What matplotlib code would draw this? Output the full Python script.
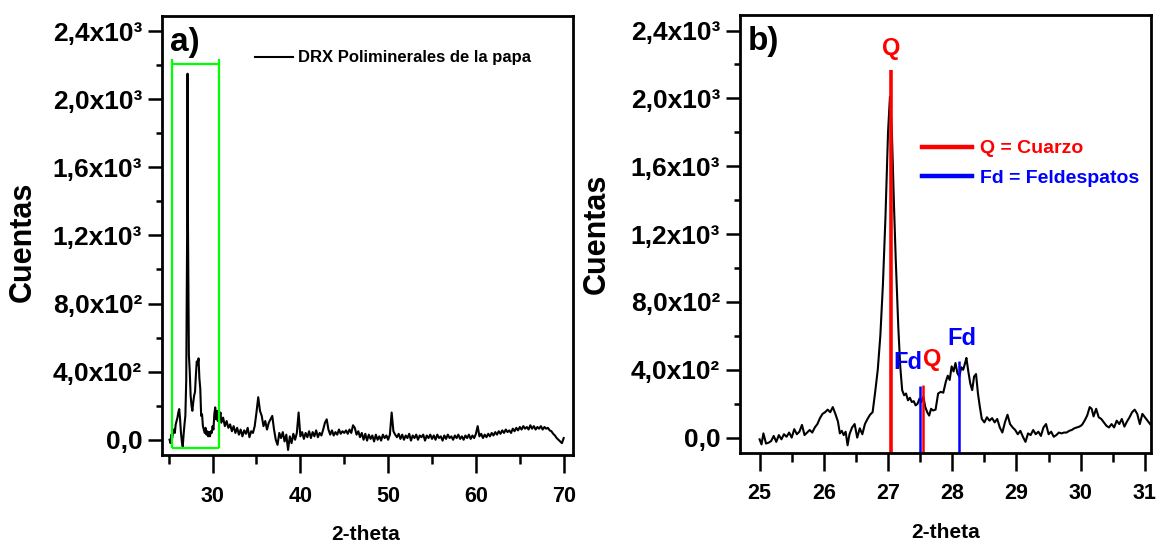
import numpy as np
import matplotlib.pyplot as plt
from matplotlib.ticker import MultipleLocator
from matplotlib.lines import Line2D

plt.rcParams['font.family'] = ['Liberation Sans', 'DejaVu Sans']
plt.rcParams['font.weight'] = 'bold'

# ---- panel a: full pattern ----
tt_a_low = [25.1, 25.2, 25.3, 25.4, 25.5, 25.6, 25.7, 25.8, 25.9, 26.0,
            26.1, 26.2, 26.3, 26.4, 26.5, 26.6, 26.7, 26.8, 26.9, 27.0,
            27.1, 27.15, 27.2, 27.3, 27.4, 27.5, 27.6, 27.7, 27.8, 27.9,
            28.0, 28.1, 28.2, 28.3, 28.4, 28.5, 28.6, 28.7, 28.8, 28.9,
            29.0, 29.1, 29.2, 29.3, 29.4, 29.5, 29.6, 29.7, 29.8, 29.9,
            30.0, 30.1, 30.2, 30.3, 30.4, 30.5, 30.6, 30.7, 30.8, 30.9, 31.0]
cts_a_low = [0, -20, 30, 10, 50, 60, 40, 90, 110, 130,
             160, 180, 120, 40, -10, -40, 30, 90, 140, 350,
             1200, 2150, 1250, 500, 400, 260, 200, 170, 220, 260,
             280, 380, 460, 440, 478, 360, 300, 140, 150, 80,
             60, 40, 70, 30, 50, 20, 45, 20, 50, 40,
             80, 60, 150, 190, 120, 170, 110, 150, 130, 160, 100]

tt_a_high = np.round(np.arange(31.2, 70.01, 0.2), 1)
cts_a_high = [130, 80, 110, 70, 90, 50, 80, 40, 70, 30,
              60, 20, 55, 35, 70, 15, 50, 40, 80, 160,
              250, 170, 140, 80, 110, 60, 100, 120, 140, 60,
              0, -30, 40, 10, 45, -10, 30, -60, 20, -20,
              35, 0, 40, 160, 20, 45, 5, 40, 15, 50,
              10, 45, 20, 55, 15, 40, 25, 60, 100, 120,
              60, 30, 55, 25, 45, 30, 60, 35, 50, 40,
              55, 35, 60, 40, 85, 70, 30, 50, 15, 40,
              0, 35, -5, 30, 5, 25, -10, 30, 0, 20,
              -5, 30, 10, 25, 0, 30, 160, 50, 30, 15,
              35, 5, 30, 0, 25, 10, 35, -5, 25, 10,
              30, 0, 25, 15, 30, -5, 25, 10, 30, 5,
              25, 0, 30, 10, 20, -5, 25, 5, 30, 10,
              20, 0, 25, 10, 30, 5, 20, 0, 25, 10,
              30, 5, 25, 10, 35, 80, 20, 35, 10, 30,
              15, 35, 20, 40, 25, 45, 30, 50, 35, 55,
              40, 60, 45, 55, 40, 65, 50, 70, 55, 75,
              60, 80, 65, 75, 60, 85, 65, 80, 60, 75,
              65, 80, 60, 75, 65, 70, 55, 50, 35, 25,
              10, 0, -10, -20, 10]

tt_a = np.concatenate([tt_a_low, tt_a_high])
cts_a = np.concatenate([cts_a_low, cts_a_high])

# zoom box drawn on panel a
box_x = [25.43, 30.69]
box_y = [-48, 2209]

# ---- panel b: zoom 25-31 ----
tt_b = [25.00, 25.03, 25.06, 25.10, 25.14, 25.18, 25.22, 25.26, 25.30, 25.34,
        25.38, 25.42, 25.46, 25.50, 25.54, 25.58, 25.62, 25.66, 25.70, 25.74,
        25.78, 25.82, 25.86, 25.90, 25.94, 25.98, 26.02, 26.06, 26.10, 26.14,
        26.18, 26.22, 26.25, 26.28, 26.31, 26.34, 26.37, 26.40, 26.44, 26.48,
        26.52, 26.56, 26.60, 26.64, 26.68, 26.72, 26.76, 26.80, 26.84, 26.88,
        26.92, 26.96, 27.00, 27.03, 27.06, 27.09, 27.12, 27.16, 27.19, 27.22,
        27.25, 27.28, 27.31, 27.34, 27.37, 27.40, 27.43, 27.46, 27.49, 27.52,
        27.55, 27.58, 27.61, 27.64, 27.67, 27.70, 27.74, 27.78, 27.82, 27.86,
        27.90, 27.93, 27.96, 27.99, 28.02, 28.05, 28.08, 28.11, 28.14, 28.17,
        28.20, 28.22, 28.25, 28.28, 28.31, 28.34, 28.37, 28.40, 28.43, 28.46,
        28.50, 28.54, 28.58, 28.62, 28.66, 28.70, 28.74, 28.78, 28.82, 28.86,
        28.90, 28.94, 28.98, 29.02, 29.06, 29.10, 29.14, 29.18, 29.22, 29.26,
        29.30, 29.34, 29.38, 29.42, 29.46, 29.50, 29.54, 29.58, 29.62, 29.66,
        29.70, 29.74, 29.78, 29.82, 29.86, 29.90, 29.94, 29.98, 30.02, 30.06,
        30.10, 30.14, 30.17, 30.20, 30.24, 30.28, 30.32, 30.36, 30.40, 30.44,
        30.48, 30.52, 30.56, 30.60, 30.64, 30.68, 30.72, 30.76, 30.80, 30.84,
        30.88, 30.92, 30.96, 31.00, 31.04, 31.08]
cts_b = [-10, -40, 25, -35, -30, -20, 10, -25, 15, -10,
         20, 5, 30, 0, 50, 20, 35, 75, 15, 30,
         45, 30, 60, 80, 115, 140, 150, 165, 150, 180,
         140, 95, 25, 40, 15, 35, -45, 20, 60, 80,
         0, 55, 20, 80, 110, 135, 150, 270, 400, 600,
         900, 1300, 1800, 2010, 1800, 1400, 1050, 650, 420, 280,
         250, 260, 220, 235, 210, 215, 190, 200, 230, 210,
         240, 180, 150, 130, 170, 160, 165, 260, 270, 265,
         330, 365, 340, 420, 390, 440, 380, 360, 415, 400,
         440, 470, 390, 320, 280, 360, 375, 260, 180, 110,
         90, 120, 100, 115, 90, 110, 60, 30, 90, 135,
         80, 60, 45, 20, 40, 5, -25, 25, 15, 45,
         20, 35, 10, 60, 80, 20, 35, 5, 15, 30,
         25, 30, 30, 40, 45, 55, 60, 65, 75, 100,
         130, 180, 170, 125, 170, 120, 110, 90, 70, 60,
         80, 60, 100, 80, 110, 65, 95, 120, 150, 165,
         140, 80, 140, 120, 100, 80]

# phase marks
q_pos = [27.05, 27.55]
q_top = [2170, 312]
fd_pos = [27.49, 28.10]
fd_top = [306, 453]

lab_txt = ['Q', 'Fd', 'Q', 'Fd']
lab_x = [27.05, 27.54, 27.55, 28.15]
lab_y = [2253, 405, 423, 547]
lab_ha = ['center', 'right', 'left', 'center']
lab_col = ['red', 'blue', 'red', 'blue']

ytick_vals = [0, 400, 800, 1200, 1600, 2000, 2400]
ytick_labels = ['0,0', '4,0x10²', '8,0x10²', '1,2x10³', '1,6x10³', '2,0x10³', '2,4x10³']
ylim = (-90, 2490)


def style(ax, xlim, xmaj, xmin):
    ax.set_xlim(xlim)
    ax.set_ylim(ylim)
    ax.set_yticks(ytick_vals)
    ax.set_yticklabels(ytick_labels)
    ax.yaxis.set_minor_locator(MultipleLocator(200))
    ax.xaxis.set_major_locator(MultipleLocator(xmaj))
    ax.xaxis.set_minor_locator(MultipleLocator(xmin))
    ax.tick_params(axis='y', which='major', length=10, width=1.8, pad=4, labelsize=19)
    ax.tick_params(axis='y', which='minor', length=4.5, width=1.8)
    ax.tick_params(axis='x', which='major', length=13, width=1.8, pad=9, labelsize=15.5)
    ax.tick_params(axis='x', which='minor', length=6.5, width=1.8)
    for s in ax.spines.values():
        s.set_linewidth(2)
    ax.set_ylabel('Cuentas', fontsize=22, fontweight='bold')
    ax.set_xlabel('2-theta', fontsize=15, fontweight='bold')


fig = plt.figure(figsize=(11.63, 5.45), dpi=100)
ax_a = fig.add_axes([0.139, 0.165, 0.354, 0.806])
ax_b = fig.add_axes([0.636, 0.169, 0.354, 0.803])

# panel a
ax_a.plot(tt_a, cts_a, color='black', lw=1.5, label='DRX Poliminerales de la papa')
ax_a.vlines(box_x, box_y[0], box_y[1] + 25, color='#00ff00', lw=1.6)
ax_a.hlines(box_y, box_x[0], box_x[1], color='#00ff00', lw=1.6)
style(ax_a, (24.2, 71.1), 10, 5)
ax_a.yaxis.set_label_coords(-0.302, 0.485)
ax_a.xaxis.set_label_coords(0.496, -0.16)
ax_a.text(0.02, 0.975, 'a)', transform=ax_a.transAxes, fontsize=24,
          ha='left', va='top')
ax_a.legend(loc='center left', bbox_to_anchor=(0.226, 0.904), frameon=False,
            fontsize=12, handlelength=2.3, handletextpad=0.3,
            borderpad=0, borderaxespad=0)

# panel b
ax_b.plot(tt_b, cts_b, color='black', lw=1.5)
ax_b.vlines(q_pos[0], ylim[0], q_top[0], color='red', lw=2.6)
ax_b.vlines(q_pos[1:], ylim[0], q_top[1:], color='red', lw=1.8)
ax_b.vlines(fd_pos, ylim[0], fd_top, color='blue', lw=1.8)
for t, x, y, ha, c in zip(lab_txt, lab_x, lab_y, lab_ha, lab_col):
    ax_b.text(x, y, t, color=c, fontsize=17, ha=ha, va='baseline')
style(ax_b, (24.69, 31.1), 1, 0.5)
ax_b.yaxis.set_label_coords(-0.311, 0.5)
ax_b.xaxis.set_label_coords(0.5, -0.16)
ax_b.text(0.02, 0.975, 'b)', transform=ax_b.transAxes, fontsize=24,
          ha='left', va='top')
handles = [Line2D([], [], color='red', lw=3.2), Line2D([], [], color='blue', lw=3.2)]
ax_b.legend(handles, ['Q = Cuarzo', 'Fd = Feldespatos'], loc='center left',
            bbox_to_anchor=(0.442, 0.662), frameon=False, fontsize=14,
            labelcolor=['red', 'blue'], handlelength=2.6, handletextpad=0.4,
            labelspacing=0.6, borderpad=0, borderaxespad=0)

fig.savefig('out.png', dpi=100)
